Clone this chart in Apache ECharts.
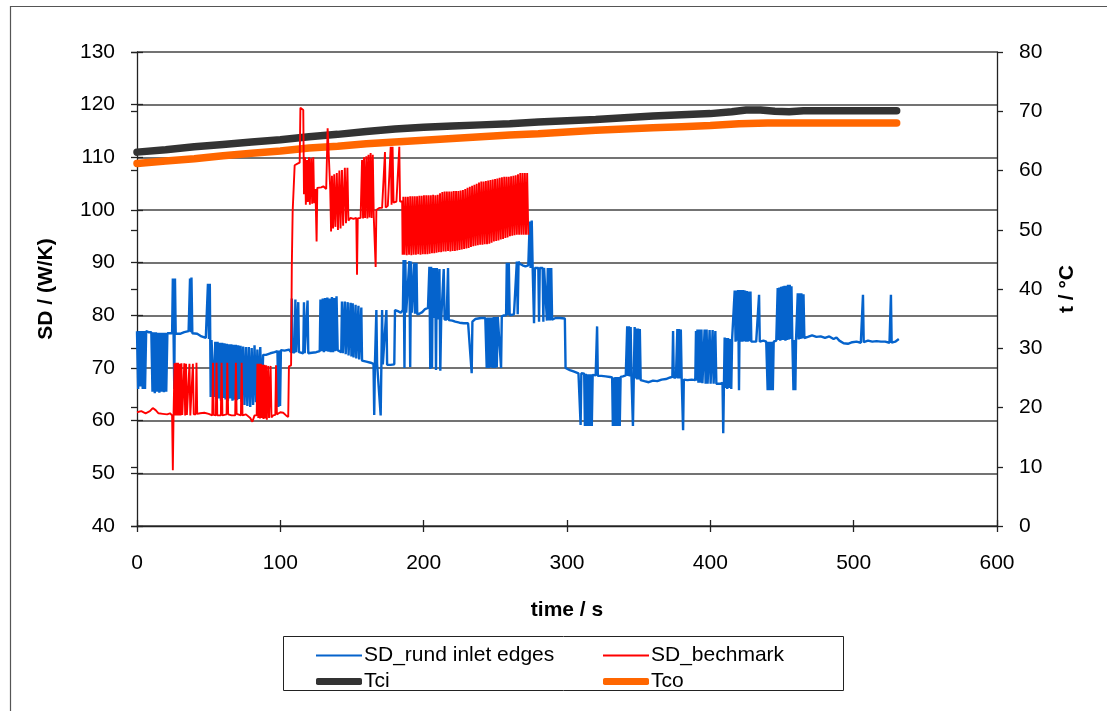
<!DOCTYPE html>
<html>
<head>
<meta charset="utf-8">
<script src="https://cdn.jsdelivr.net/npm/echarts@6/dist/echarts.min.js"></script>
<style>
html,body{margin:0;padding:0;background:#fff;}
#chart{width:1107px;height:711px;}
</style>
</head>
<body>
<div id="chart"></div>
<script>
// ---- data (time in s, value) ----
const seriesNames = ['SD_rund inlet edges', 'SD_bechmark', 'Tci', 'Tco'];
const xTicks = [0, 100, 200, 300, 400, 500, 600];
const leftTicks = [40, 130];   // min, max of SD axis
const rightTicks = [0, 80];    // min, max of t axis

const sdRund = [
[0,77],[0.8,66],[1.6,77],[2.4,66.5],[3.2,77],[4,66],[4.8,77],[5.6,66],[6.4,77],[8,76.8],
[10,76.8],[10.8,65.5],[11.6,76.8],[12.4,65.2],[13.2,76.8],[14,65.5],[14.8,76.7],[15.6,65.3],[16.4,76.7],[17.2,65.5],[18,76.7],[18.8,65.4],[19.6,76.7],[20.4,65.5],[21.2,76.6],
[22.5,76.6],[24.5,76.6],[25,87],[25.5,76.6],[26,66],[26.5,87],[27,76.5],
[30,76.5],[33,76.8],[36,77],[37,87],[37.6,76.8],[38,87.2],[38.6,76.6],
[42,76.5],[45,76],[48,75.7],[49.5,86],[50.2,75.5],[50.8,86],[51.4,64.5],[52,75.3],
[53,75.2],[53.8,64.5],[54.6,75],[55.4,64],[56.2,75],[57,64.2],[57.8,74.8],[58.6,63.8],[59.4,74.8],[60.2,64.3],[61,74.7],[61.8,64],[62.6,74.6],[63.4,63.7],[64.2,74.5],[65,64.2],[65.8,74.5],[66.6,63.8],[67.4,74.4],[68.2,64],[69,74.4],[69.8,63.9],[70.6,74.3],[71.4,64.1],[72.2,74.2],[73,63.6],
[74,74.1],[75,63],[76,74],[77,62.8],[78,74],[79,62.6],[80,73.8],[81,63],[82,74.3],[83,63.5],[84,73.5],[85,64],[86,74],[87,63.8],[88,72.5],
[90,72.5],[93,72.8],[96,73],[98,73.2],[98.6,62.6],[99.2,73.3],[99.8,62.8],[100.4,73.4],[103,73.3],[106,73.5],
[107.5,73],[108,83.2],[108.6,73],[110,73],[110.5,83],[111,73],[112,73],[112.5,82.5],[113,73],[116,72.8],[116.5,82.5],[117,72.8],[119,82.8],[119.5,72.8],
[122,72.9],[125,73],[127.5,73.2],
[128,83],[128.8,73.2],[129.6,83.2],[130.4,73],[131.2,83.3],[132,73.2],[132.8,83.4],[133.6,73.1],[134.4,83.2],[135.2,73],[136,83.5],[136.8,73],[137.6,83.3],[138.4,73.2],[139.2,83.6],[140,73.4],
[141,73.2],[142.5,73],[143,82.6],[143.6,72.8],[145,82.6],[145.6,72.6],[147,82.5],[147.6,72.4],[149,82.4],[149.6,72.2],[150.5,82.3],[151.1,72],[152.5,82],[153,71.8],[154.5,81.8],[155,71.6],[156.5,81.5],[157,71.4],
[160,71.2],[163,71],[165,70.8],[165.5,61.1],[166,70.8],[167,81],[167.5,70.8],[170,61],[170.5,70.7],[171,81],[171.5,70.7],[174,81],[174.5,70.6],
[177,70.6],[179.5,70.7],[180,81],[182,80.8],[184,80.5],
[185.5,81],[186,90.5],[186.6,70],[187.2,90.5],[187.8,80.5],[190,90.3],[190.6,70.2],[191.2,90.2],[191.8,80.5],[193.5,90],[194,80.3],[195,90],[195.5,80.2],
[197,80.3],[199,80.6],[201,81.2],[203,81.4],
[204,89.2],[204.6,69.8],[205.2,89.2],[205.8,70],[206.4,89],[207,79.5],[208,89],[208.6,69.6],[209.2,89],[209.8,79.2],[211,88.8],[211.6,69.5],[212.2,79],[213.5,79.2],[214,88.8],[214.6,79.2],
[216,79.2],[217,89],[217.5,79.1],[220,79],[222,78.8],[225,78.6],[228,78.5],[231,78.5],[233.5,69],[234,78.8],[236,79.3],[240,79.5],[243,79.5],
[244,70],[244.7,79.6],[245.4,70],[246.1,79.6],[246.8,70.1],[247.5,79.6],[248.2,70],[248.9,79.7],[249.6,70],[250.3,79.7],[251,70.1],[251.7,79.7],
[253,79.6],[254,70],[254.5,79.8],[256,80],[257.5,80],[258,90],[258.6,80],[259.4,90],[260,80],[263,80.2],[265,90.2],[265.6,80.2],[266.2,90.2],[267,89.8],[269,89.5],[271,89.3],[273,89.5],[274,97.8],[274.6,89],[275.4,98],[276,89.5],[277,78.5],[277.6,89],[278.5,89],[280,89],[280.5,78.8],[281,89],[283,89],[283.5,78.8],[284,89],
[286,79],[286.6,89],[287.2,79],[287.8,89],[288.4,79],[289,89],[289.6,79.2],
[292,79.5],[295,79.5],[298.5,79.4],[299,70],[302,69.6],[305,69.3],[308,69],[309.5,59.2],[310,69],[312,68.9],
[312.5,59],[313.1,68.9],[313.7,59],[314.3,68.8],[314.9,59],[315.5,68.8],[316.1,59],[316.7,68.8],[317.3,59],[317.9,68.7],
[320,68.6],[321,77.9],[321.5,68.5],[324,68.5],[327,68.4],[330,68.3],[331.5,68.2],
[332,59],[332.6,68.2],[333.2,59],[333.8,68.3],[334.4,59],[335,68.3],[335.6,59],[336.2,68.3],[336.8,59],[337.4,68.3],
[339,68.4],[341,68.6],
[342,77.9],[342.6,68.5],[343.2,77.9],[343.8,68.4],[344.4,77.8],[345,68.2],[346,59],[346.6,68.2],[347.2,77.8],[347.8,68],[348.4,77.5],[349,67.8],[349.6,77.5],[350.2,67.8],[350.8,77.4],[351.4,67.7],
[354,67.5],[357,67.3],[360,67.6],[363,67.5],[366,67.8],[369,67.9],[372,68.2],[373.5,68.3],[374,77],[374.5,68.2],[376,68.2],
[377,77.4],[377.6,68],[378.2,77.4],[378.8,68],[379.4,77.3],[380,68],[381,58.2],[381.5,67.8],[384,67.7],[387,67.8],[389.5,67.7],[390,77],[390.5,67.6],
[391,77.3],[391.7,67.2],[392.4,77.3],[393.1,67.2],[393.8,77.3],[394.5,67.1],[396,77.3],[396.7,67],[397.4,77.3],[398.1,67],[399.5,77.2],[400.2,67],[401.6,77.2],[402.3,67],[403.5,77],[404.2,67],[405,67],
[407,67],[408.5,67.2],[409,57.6],[409.5,67],[410,75.8],[410.6,66.2],[411.2,75.7],[411.8,66],[412.4,75.7],[413,66.2],[414,75.5],[414.6,66],[415.2,75.5],[416,75.3],
[417,84.7],[417.6,75],[418.2,84.7],[418.8,75.2],[419.4,84.8],[420,65.8],[420.6,84.8],[421.2,75],[421.8,84.8],[422.4,75],[423,84.8],[423.6,75.1],[424.2,84.7],[424.8,75],[425.4,84.6],[426,75],[426.6,84.5],[427.2,75.1],[428,84.5],[428.6,75],
[430,75],[432,75],[434,83.9],[434.5,75],[437,75.2],[439,75],
[440,65.8],[440.6,75],[441.2,65.8],[441.8,75],[442.4,65.8],[443,75],[443.6,65.8],[444.2,75],[445,75.1],[446,75.2],
[447,85.2],[447.6,75.3],[448.2,85.3],[448.8,75.2],[449.4,85.4],[450,75.3],[450.6,85.5],[451.2,75.3],[451.8,85.6],[452.4,75.2],[453,85.6],[453.6,75.3],[454.2,85.8],[454.8,75.4],[455.4,85.8],[456,75.5],[456.6,85.5],[457.2,75.4],
[458,65.8],[458.5,75.3],[459.3,65.8],[459.8,75.4],
[461,84.2],[461.6,75.4],[462.2,84.2],[462.8,75.5],[463.5,84.2],[464.1,75.6],[465,84],[465.6,75.7],
[468,75.9],[471,76.2],[474,75.9],[477,76],[480,75.7],[483,76],[486,75.5],[488,75.8],[490,75.2],[493,74.7],[496,74.6],[499,74.9],[502,75],[505,74.8],[506.5,83.9],[507,74.9],[510,75.2],[513,75],[516,75.1],[519,75],[522,75],[525,74.8],[526,83.9],[526.5,74.8],[529,75],[531.5,75.5]
];

const sdBench = [
[0,61.6],[3,61.8],[6,61.4],[9,61.8],[11,62.4],[13,62],[15,61.4],[18,61.3],[21,61.2],[23,61.4],[24.5,61],[25,50.6],[25.5,61],[26.2,70.9],
[26.8,61],[27.4,71],[28,61],[28.6,71],[29.2,61],[29.8,70.8],[30.4,61],[31,70.9],[31.6,61.1],[32.5,61],[33,70.9],[33.6,61],[34.2,70.8],[34.8,61.1],[36,61],[36.6,70.8],[37.2,61],[38.5,61.2],[39,70.8],[39.6,61.2],
[41,61.2],[41.5,71],[42,61.3],[44,61.4],[47,61.5],[50,61.3],[52.5,61],[53,71],[53.5,61.1],[55,61],[55.5,71],[56,61],[58.5,61],[59,71],[59.6,61],[62.5,61.2],[63,71],[63.6,61.2],[66,61],[68.5,61],[69,71],[69.5,61.3],[72.5,61],[73,71],[73.6,61],[76,61.2],[79,60.5],[80.5,59.8],[82,61],[83.5,61],
[84,70.8],[84.6,60.5],[85.2,70.8],[85.8,60.4],[86.4,70.8],[87,60.5],[87.6,70.6],[88.2,60.3],[88.8,70.6],[89.4,60.4],[90,70.5],[90.6,60.2],[91.5,70.4],[92.1,60.5],[93.2,70.4],[93.8,60.6],
[95,61],[96.5,61.1],[97,70.5],[97.6,61.2],[100,61.6],[102,61.5],[104,61],[105.5,60.7],[106,70.3],[107.5,70.5],[108,89.2],[108.6,99.7],[110,108.5],[112,108.8],[113.5,109],[114,119.4],[115,119.4],[116,119],[116.5,103],
[117.2,110],[117.8,101],[118.6,109.5],[119.2,101.5],[120,110],[120.6,101],[121.5,109.8],[122.2,101.2],[123,110],[123.6,101.3],[124.5,104],[125.3,94],[125.8,104.2],
[127,104.2],[128.5,104.3],[130,104.5],[132,104],[133,115.5],[134,115.3],[134.8,104],[135.4,95.9],
[136,106.5],[136.8,96.5],[137.6,106.8],[138.4,96.8],[139.4,107],[140.2,96.2],[141.2,107.5],[142,96.5],[143,107.6],[143.8,97],[145,108],[145.8,97.5],[146.8,108],
[147.5,98],[149,98.5],[151,98.3],[153,98.5],[153.5,87.7],[154,98.4],[156,98.5],
[157,109.5],[157.7,98.4],[158.4,110],[159.1,98.5],[160,110.2],[160.7,98.4],[161.5,110.5],[162.2,98.6],[163,110.8],[163.7,98.5],[164.5,110.5],[165.2,98.6],[166,98.5],[166.5,89.2],[167,100],
[169,100.4],[171,100.4],[173,111],[173.5,100.5],[175,100.8],[177,112],[177.6,101],[178.3,112],[179,101.4],[181,101.6],[183,112],[183.5,101.6],[185,101.6],[185.3,91.5],
[185.8,102.5],[186.6,91.5],[187.4,102.5],[188.2,91.4],[189,102.5],[189.8,91.5],[190.6,102.6],[191.4,91.4],[192.2,102.6],[193,91.5],[193.8,102.6],[194.6,91.5],[195.4,102.6],[196.2,91.6],[197,102.7],[197.8,91.5],[198.6,102.7],[199.4,91.6],[200.2,102.8],[201,91.6],[201.8,102.8],[202.6,91.6],[203.4,102.8],[204.2,91.7],[205,102.8],[205.8,91.8],[206.6,102.9],[207.4,91.8],[208.2,102.8],[209,91.9],[209.8,102.9],[210.6,92],[211.4,103.2],[212.2,92],[213,103.4],[213.8,92.1],[214.6,103.5],[215.4,92.1],[216.2,103.5],[217,92.2],[217.8,103.5],[218.6,92.1],[219.4,103.5],[220.2,92.2],[221,103.6],[221.8,92.2],[222.6,103.6],[223.4,92.3],[224.2,103.6],[225,92.4],[225.8,103.7],[226.6,92.5],[227.4,103.8],[228.2,92.6],[229,104],[229.8,92.7],[230.6,104.2],[231.4,92.8],[232.2,104.4],[233,93],[233.8,104.6],[234.6,93.1],[235.4,104.8],[236.2,93.2],[237,105],[237.8,93.3],[238.6,105.2],[239.4,93.4],[240.2,105.4],[241,93.4],[241.8,105.4],[242.6,93.5],[243.4,105.5],[244.2,93.5],[245,105.6],[245.8,93.6],[246.6,105.7],[247.4,93.8],[248.2,105.8],[249,94],[249.8,105.9],[250.6,94.1],[251.4,106],[252.2,94.2],[253,106.1],[253.8,94.4],[254.6,106.2],[255.4,94.5],[256.2,106.3],[257,94.7],[257.8,106.3],[258.6,94.8],[259.4,106.3],[260.2,95],[261,106.4],[261.8,95.1],[262.6,106.5],[263.4,95.2],[264.2,106.6],[265,95.3],[265.8,106.8],[266.6,95.3],[267.4,107],[268.2,95.3],[269,107],[269.8,95.3],[270.6,107],[271.4,95.3],[272.2,107],[273,95.3]
];

const tci = [
[0,63.1],[20,63.5],[40,64],[60,64.4],[80,64.8],[100,65.2],[120,65.7],[140,66.1],[160,66.6],[180,67],[200,67.3],[220,67.5],[240,67.7],[260,67.9],[280,68.2],[300,68.4],[320,68.6],[340,68.9],[360,69.2],[380,69.4],[400,69.6],[415,69.9],[425,70.2],[435,70.2],[445,70],[455,69.9],[465,70.1],[480,70.1],[500,70.1],[530,70.1]
];

const tco = [
[0,61.2],[20,61.6],[40,62],[60,62.5],[80,62.9],[100,63.3],[120,63.8],[140,64.1],[160,64.5],[180,64.8],[200,65.1],[220,65.4],[240,65.7],[260,66],[280,66.2],[300,66.5],[320,66.8],[340,67],[360,67.2],[380,67.4],[400,67.6],[420,67.9],[440,68],[460,68],[480,68],[500,68],[530,68]
];

// ---- chart ----
const FONT = "'Liberation Sans', Arial, sans-serif";
const chart = echarts.init(document.getElementById('chart'), null, {renderer: 'canvas'});
const axisLineStyle = {color: '#222', width: 1.3};
const tickLen = 6;

const baseX = {type: 'value', min: xTicks[0], max: xTicks[xTicks.length - 1], interval: 100};
const baseLeft = {type: 'value', min: leftTicks[0], max: leftTicks[1], interval: 10, position: 'left'};
const baseRight = {type: 'value', min: rightTicks[0], max: rightTicks[1], interval: 10, position: 'right'};

const option = {
  animation: false,
  backgroundColor: '#fff',
  grid: {left: 137, right: 110, top: 52, bottom: 185, containLabel: false},
  graphic: [
    {type: 'rect', shape: {x: 10.5, y: 6.5, width: 1110, height: 720}, style: {fill: 'none', stroke: '#555', lineWidth: 1.2}, silent: true, z: -10},
    {type: 'rect', shape: {x: 283.5, y: 636.5, width: 560, height: 54}, style: {fill: 'none', stroke: '#222', lineWidth: 1}, silent: true}
  ],
  xAxis: [
    Object.assign({}, baseX, {
      position: 'bottom',
      axisLine: {show: true, onZero: false, lineStyle: axisLineStyle},
      axisTick: {show: true, inside: false, length: tickLen, lineStyle: axisLineStyle},
      axisLabel: {show: true, margin: 27, fontSize: 21, color: '#000', fontFamily: FONT},
      splitLine: {show: false},
      name: 'time / s', nameLocation: 'middle', nameGap: 74,
      nameTextStyle: {fontSize: 21, fontWeight: 'bold', color: '#000', fontFamily: FONT}
    }),
    Object.assign({}, baseX, {
      position: 'bottom',
      axisLine: {show: false},
      axisTick: {show: true, inside: true, length: tickLen, lineStyle: axisLineStyle},
      axisLabel: {show: false}, splitLine: {show: false}
    })
  ],
  yAxis: [
    Object.assign({}, baseLeft, {
      axisLine: {show: true, onZero: false, lineStyle: axisLineStyle},
      axisTick: {show: true, inside: false, length: tickLen, lineStyle: axisLineStyle},
      axisLabel: {show: true, margin: 22, fontSize: 21, color: '#000', fontFamily: FONT},
      splitLine: {show: true, lineStyle: {color: '#444', width: 1.6}},
      name: 'SD / (W/K)', nameLocation: 'middle', nameGap: 80, nameRotate: 90,
      nameTextStyle: {fontSize: 21, fontWeight: 'bold', color: '#000', fontFamily: FONT}
    }),
    Object.assign({}, baseRight, {
      axisLine: {show: true, onZero: false, lineStyle: axisLineStyle},
      axisTick: {show: true, inside: false, length: tickLen, lineStyle: axisLineStyle},
      axisLabel: {show: true, margin: 22, fontSize: 21, color: '#000', fontFamily: FONT},
      splitLine: {show: false},
      name: 't / °C', nameLocation: 'middle', nameGap: 60, nameRotate: 90,
      nameTextStyle: {fontSize: 21, fontWeight: 'bold', color: '#000', fontFamily: FONT}
    }),
    Object.assign({}, baseRight, {
      axisLine: {show: false},
      axisTick: {show: true, inside: true, length: tickLen, lineStyle: axisLineStyle},
      axisLabel: {show: false}, splitLine: {show: false}
    }),
    Object.assign({}, baseLeft, {
      axisLine: {show: false},
      axisTick: {show: true, inside: true, length: tickLen, lineStyle: axisLineStyle},
      axisLabel: {show: false}, splitLine: {show: false}
    })
  ],
  legend: [
    {data: [seriesNames[0]], left: 316, top: 645},
    {data: [seriesNames[1]], left: 603, top: 645},
    {data: [seriesNames[2]], left: 316, top: 671},
    {data: [seriesNames[3]], left: 603, top: 671}
  ].map((l, i) => Object.assign(l, {
    orient: 'horizontal', itemWidth: 46, itemHeight: i < 2 ? 2 : 7,
    icon: i < 2 ? 'rect' : 'roundRect', itemGap: 0,
    textStyle: {fontSize: 21, color: '#000', fontFamily: FONT, padding: [0, 0, 0, -3]},
    padding: 0, selectedMode: false
  })),
  series: [
    {name: seriesNames[2], type: 'line', xAxisIndex: 0, yAxisIndex: 1, data: tci, showSymbol: false, symbol: 'none',
     lineStyle: {color: '#333333', width: 7.5, cap: 'round'}, itemStyle: {color: '#333333'}, z: 2},
    {name: seriesNames[3], type: 'line', xAxisIndex: 0, yAxisIndex: 1, data: tco, showSymbol: false, symbol: 'none',
     lineStyle: {color: '#FF6600', width: 7.5, cap: 'round'}, itemStyle: {color: '#FF6600'}, z: 2},
    {name: seriesNames[0], type: 'line', xAxisIndex: 0, yAxisIndex: 0, data: sdRund, showSymbol: false, symbol: 'none',
     lineStyle: {color: '#0563CC', width: 2.4}, itemStyle: {color: '#0563CC'}, z: 3},
    {name: seriesNames[1], type: 'line', xAxisIndex: 0, yAxisIndex: 0, data: sdBench, showSymbol: false, symbol: 'none',
     lineStyle: {color: '#FF0000', width: 1.9}, itemStyle: {color: '#FF0000'}, z: 4}
  ]
};
chart.setOption(option);
</script>
</body>
</html>
